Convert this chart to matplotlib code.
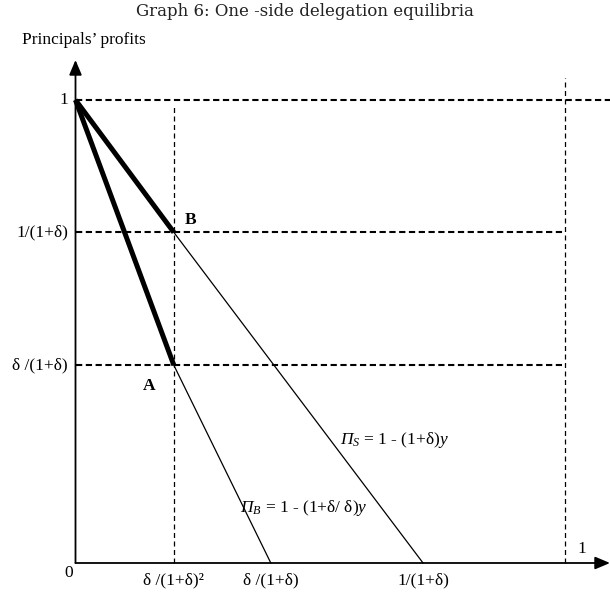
"""Graph 6: one-side delegation equilibria (schematic profit lines)."""

import matplotlib
matplotlib.use("Agg")
import matplotlib.pyplot as plt

plt.rcParams["font.family"] = ["Liberation Serif", "DejaVu Serif"]
# math parts (Pi, subscripts, y) are all italic Times-like
plt.rcParams["mathtext.fontset"] = "custom"
plt.rcParams["mathtext.rm"] = "Liberation Serif:italic"
plt.rcParams["mathtext.it"] = "Liberation Serif:italic"

# schematic levels (axis units: y=1 and profit=1)
X_TICKS = [0.201, 0.399, 0.710, 1.0]
X_LABELS = ["δ /(1+δ)²", "δ /(1+δ)", "1/(1+δ)", "1"]
Y_TICKS = [1.0, 0.714, 0.427]
Y_LABELS = ["1", "1/(1+δ)", "δ /(1+δ)"]

# equilibrium points
A = (0.201, 0.427)
B = (0.201, 0.714)

# profit lines: thick part (start -> equilibrium) then thin part (-> x axis)
PI_B_X = [0.0, A[0], 0.399]
PI_B_Y = [1.0, A[1], 0.0]
PI_S_X = [0.0, B[0], 0.710]
PI_S_Y = [1.0, B[1], 0.0]

# pixel frame of the original figure
W, H = 610, 595
X0, Y0 = 75.5, 563.0      # origin in pixels
SX, SY = 489.5, 463.0     # pixels per unit

fig = plt.figure(figsize=(W / 100, H / 100), dpi=100)
ax = fig.add_axes([0, 0, 1, 1])
ax.set_xlim(-X0 / SX, (W - X0) / SX)
ax.set_ylim(-(H - Y0) / SY, Y0 / SY)
ax.axis("off")


def px(x):
    return (x - X0) / SX


def py(y):
    return (Y0 - y) / SY


# axes with arrows
arrow = dict(arrowstyle="-|>,head_length=0.9,head_width=0.38",
             color="black", lw=1.3, shrinkA=0, shrinkB=0)
ax.annotate("", xy=(px(610), 0), xytext=(0, 0), arrowprops=arrow)
ax.annotate("", xy=(0, py(60)), xytext=(0, 0), arrowprops=arrow)

# dashed guides
hdash = dict(color="black", lw=1.5, dashes=(3, 1.7))
vdash = dict(color="black", lw=0.9, dashes=(4, 2.8))
ax.plot([0, px(610)], [Y_TICKS[0], Y_TICKS[0]], **hdash)
ax.plot([0, X_TICKS[3]], [Y_TICKS[1], Y_TICKS[1]], **hdash)
ax.plot([0, X_TICKS[3]], [Y_TICKS[2], Y_TICKS[2]], **hdash)
ax.plot([X_TICKS[0], X_TICKS[0]], [0, py(105)], **vdash)
ax.plot([X_TICKS[3], X_TICKS[3]], [0, py(78)], **vdash)

# profit lines
ax.plot(PI_B_X[:2], PI_B_Y[:2], color="black", lw=3.6, solid_capstyle="butt")
ax.plot(PI_B_X[1:], PI_B_Y[1:], color="black", lw=0.9)
ax.plot(PI_S_X[:2], PI_S_Y[:2], color="black", lw=3.6, solid_capstyle="butt")
ax.plot(PI_S_X[1:], PI_S_Y[1:], color="black", lw=0.9)

FS = 12.5
# y labels
for yv, lab in zip(Y_TICKS, Y_LABELS):
    ax.text(px(68), yv, lab, ha="right", va="center", fontsize=FS)
ax.text(px(73), py(573), "0", ha="right", va="center", fontsize=FS)

# x labels
for xv, lab in zip(X_TICKS[:3], X_LABELS[:3]):
    ax.text(xv, py(580), lab, ha="center", va="center", fontsize=FS)
ax.text(px(582), py(549), X_LABELS[3], ha="center", va="center", fontsize=FS)

# point labels
ax.text(px(191), py(220), "B", ha="center", va="center", fontsize=FS,
        fontweight="bold")
ax.text(px(149), py(386), "A", ha="center", va="center", fontsize=FS,
        fontweight="bold")

# line equations
ax.text(px(340), py(440), r"$\Pi_S$ = 1 - (1+δ)$y$",
        ha="left", va="center", fontsize=FS)
ax.text(px(240), py(508), r"$\Pi_B$ = 1 - (1+δ/ δ)$y$",
        ha="left", va="center", fontsize=FS)

ax.text(px(22), py(40), "Principals\u2019 profits", ha="left", va="center",
        fontsize=FS)
ax.text(px(305), py(11), "Graph 6: One -side delegation equilibria",
        ha="center", va="center", fontsize=12, family=["DejaVu Serif"],
        color="#222222")

fig.savefig("out.png", dpi=100)
